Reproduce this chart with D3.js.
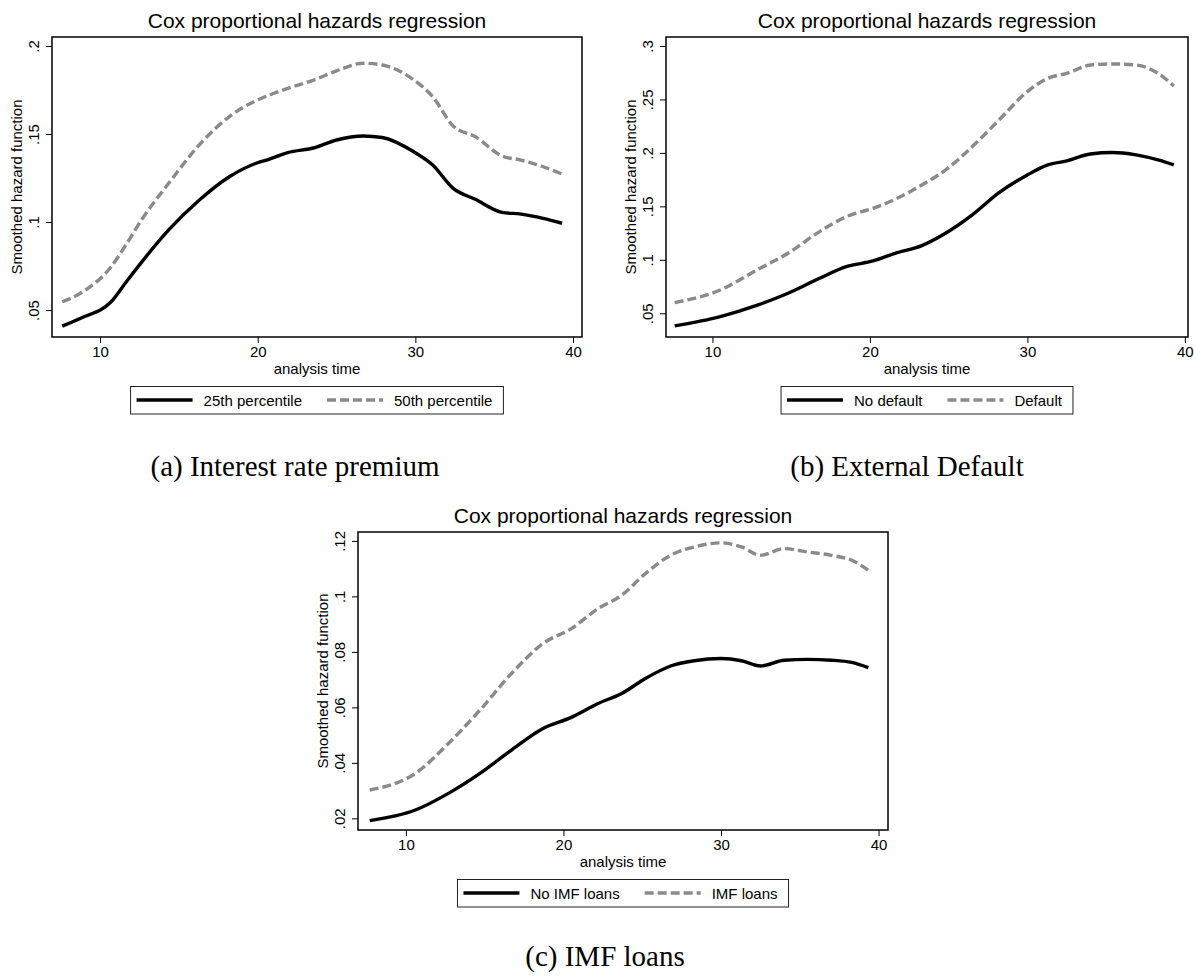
<!DOCTYPE html>
<html>
<head>
<meta charset="utf-8">
<title>Cox proportional hazards regression</title>
<script src="https://cdn.jsdelivr.net/npm/d3@7"></script>
<style>
  body { margin: 0; background: #fff; }
  svg { display: block; }
  .sans { font-family: "Liberation Sans", Arial, sans-serif; }
  .serif { font-family: "Liberation Serif", "Times New Roman", serif; }
</style>
</head>
<body>
<svg id="fig" width="1196" height="978"></svg>
<script>
// ---- data ----
// (a) interest rate premium
var timeA = [7.6, 8.8, 10.7, 11.7, 12.65, 14.35, 16.3, 18.2, 19.9, 20.7, 21.9, 23.6, 25.0, 26.7, 27.9, 29.9, 31.1, 32.4, 33.8, 35.5, 36.7, 38.1, 39.3];
var pct25 = [0.0409, 0.0455, 0.0547, 0.0665, 0.0774, 0.0955, 0.1125, 0.1257, 0.1334, 0.1356, 0.1394, 0.1422, 0.1466, 0.1489, 0.1480, 0.1399, 0.1324, 0.1191, 0.1129, 0.1055, 0.1045, 0.1021, 0.0993];
var pct50 = [0.0547, 0.0598, 0.0746, 0.0879, 0.1015, 0.1220, 0.1439, 0.1599, 0.1690, 0.1720, 0.1759, 0.1808, 0.1859, 0.1902, 0.1892, 0.1807, 0.1712, 0.1545, 0.1485, 0.1375, 0.1352, 0.1314, 0.1273];
var yTicksA = [0.05, 0.1, 0.15, 0.2];

// (b) external default
var timeB = [7.6, 10.5, 12.9, 14.8, 16.8, 18.5, 20.2, 21.6, 23.3, 24.8, 26.5, 28.2, 30.0, 31.3, 32.5, 34.0, 35.4, 36.9, 38.3, 39.3];
var noDefault = [0.0382, 0.0469, 0.0578, 0.0687, 0.0827, 0.0936, 0.0989, 0.1061, 0.1133, 0.1248, 0.1420, 0.1628, 0.1794, 0.1887, 0.1925, 0.1990, 0.2003, 0.1981, 0.1934, 0.1887];
var withDefault = [0.0600, 0.0718, 0.0911, 0.1061, 0.1264, 0.1404, 0.1482, 0.1566, 0.1700, 0.1840, 0.2059, 0.2308, 0.2573, 0.2698, 0.2744, 0.2822, 0.2832, 0.2822, 0.2744, 0.2626];
var yTicksB = [0.05, 0.1, 0.15, 0.2, 0.25, 0.3];

// (c) IMF loans
var timeC = [7.7, 10.6, 12.7, 14.7, 16.7, 18.7, 20.5, 22.2, 23.7, 25.2, 26.8, 28.3, 30.0, 31.3, 32.5, 34.0, 35.5, 37.0, 38.3, 39.35];
var noImf = [0.0192, 0.0230, 0.0290, 0.0362, 0.0446, 0.0524, 0.0564, 0.0614, 0.0650, 0.0704, 0.0749, 0.0768, 0.0776, 0.0768, 0.0749, 0.0770, 0.0773, 0.0770, 0.0762, 0.0743];
var imf = [0.0302, 0.0362, 0.0470, 0.0590, 0.0722, 0.0830, 0.0884, 0.0956, 0.1004, 0.1082, 0.1148, 0.1178, 0.1193, 0.1178, 0.1148, 0.1172, 0.1160, 0.1148, 0.1130, 0.1094];
var yTicksC = [0.02, 0.04, 0.06, 0.08, 0.1, 0.12];

var xTicks = [10, 20, 30, 40];
var title = "Cox proportional hazards regression";
var xTitle = "analysis time";
var yTitle = "Smoothed hazard function";

// ---- layout ----
var panels = [
  { box: [52, 37, 582, 337], xDom: [6.95, 40.57], yDom: [0.0347, 0.2051], yTicks: yTicksA,
    caption: "(a) Interest rate premium", capX: 295, capY: 476,
    series: [{ name: "25th percentile", t: timeA, v: pct25, dash: false },
             { name: "50th percentile", t: timeA, v: pct50, dash: true }] },
  { box: [666, 37, 1188, 337], xDom: [7.05, 40.2], yDom: [0.0278, 0.3084], yTicks: yTicksB,
    caption: "(b) External Default", capX: 907, capY: 476,
    series: [{ name: "No default", t: timeB, v: noDefault, dash: false },
             { name: "Default", t: timeB, v: withDefault, dash: true }] },
  { box: [358, 532, 888, 830], xDom: [6.96, 40.6], yDom: [0.0158, 0.1232], yTicks: yTicksC,
    caption: "(c) IMF loans", capX: 605, capY: 966,
    series: [{ name: "No IMF loans", t: timeC, v: noImf, dash: false },
             { name: "IMF loans", t: timeC, v: imf, dash: true }] }
];

var svg = d3.select("#fig");
svg.append("rect").attr("width", 1196).attr("height", 978).attr("fill", "#fff");

var grey = "#8a8a8a";
var fmt = function(d) { return String(+d.toFixed(3)).replace(/^0\./, "."); };

panels.forEach(function(p) {
  var x0 = p.box[0], y0 = p.box[1], x1 = p.box[2], y1 = p.box[3];
  var g = svg.append("g").attr("class", "sans");

  var x = d3.scaleLinear().domain(p.xDom).range([x0, x1]);
  var y = d3.scaleLinear().domain(p.yDom).range([y1, y0]);

  // title
  g.append("text")
    .attr("x", (x0 + x1) / 2).attr("y", y0 - 9)
    .attr("text-anchor", "middle").attr("font-size", 21)
    .text(title);

  // x axis
  var xa = g.append("g").attr("transform", "translate(0," + y1 + ")")
    .call(d3.axisBottom(x).tickValues(xTicks).tickSize(6).tickPadding(4));
  xa.select(".domain").remove();
  xa.selectAll("line").attr("stroke", "#000");
  xa.selectAll("text").attr("font-size", 15).attr("font-family", null).attr("dy", null).attr("y", 20).attr("fill", "#000");

  // y axis, rotated tick labels
  var ya = g.append("g").attr("transform", "translate(" + x0 + ",0)")
    .call(d3.axisLeft(y).tickValues(p.yTicks).tickSize(6).tickFormat(fmt));
  ya.select(".domain").remove();
  ya.selectAll("line").attr("stroke", "#000");
  ya.selectAll("text")
    .attr("font-size", 15).attr("font-family", null).attr("fill", "#000")
    .attr("dy", null).attr("x", 0).attr("y", -13)
    .attr("text-anchor", "middle").attr("transform", "rotate(-90)");

  // axis titles
  g.append("text")
    .attr("x", (x0 + x1) / 2).attr("y", y1 + 37)
    .attr("text-anchor", "middle").attr("font-size", 15)
    .text(xTitle);
  g.append("text")
    .attr("transform", "translate(" + (x0 - 30) + "," + ((y0 + y1) / 2) + ") rotate(-90)")
    .attr("text-anchor", "middle").attr("font-size", 15)
    .text(yTitle);

  // lines
  var line = d3.line().curve(d3.curveMonotoneX);
  p.series.forEach(function(s) {
    var pts = s.t.map(function(t, i) { return [x(t), y(s.v[i])]; });
    g.append("path")
      .attr("d", line(pts))
      .attr("fill", "none")
      .attr("stroke", s.dash ? grey : "#000")
      .attr("stroke-width", 3.4)
      .attr("stroke-dasharray", s.dash ? "9,4" : null)
      .attr("stroke-linejoin", "round");
  });

  // plot frame
  g.append("rect")
    .attr("x", x0).attr("y", y0).attr("width", x1 - x0).attr("height", y1 - y0)
    .attr("fill", "none").attr("stroke", "#000").attr("stroke-width", 1.5);

  // legend: frame first, sized after the texts are measured
  var frame = g.append("rect");
  var lg = g.append("g");
  var ly = y1 + 63;
  var cx = 0;
  p.series.forEach(function(s, i) {
    if (i > 0) cx += 25;
    lg.append("line")
      .attr("x1", cx).attr("x2", cx + 56).attr("y1", ly).attr("y2", ly)
      .attr("stroke", s.dash ? grey : "#000").attr("stroke-width", 3.4)
      .attr("stroke-dasharray", s.dash ? "9,4" : null);
    cx += 67;
    var t = lg.append("text").attr("x", cx).attr("y", ly + 5.5)
      .attr("font-size", 15).text(s.name);
    cx += t.node().getComputedTextLength();
  });
  var lw = cx + 17;
  var lx = (x0 + x1) / 2 - lw / 2;
  lg.attr("transform", "translate(" + (lx + 6) + ",0)");
  frame
    .attr("x", lx).attr("y", y1 + 49.5).attr("width", lw).attr("height", 27.5)
    .attr("fill", "#fff").attr("stroke", "#222").attr("stroke-width", 1);

  // caption
  svg.append("text").attr("class", "serif")
    .attr("x", p.capX).attr("y", p.capY)
    .attr("text-anchor", "middle").attr("font-size", 29)
    .text(p.caption);
});
</script>
</body>
</html>
